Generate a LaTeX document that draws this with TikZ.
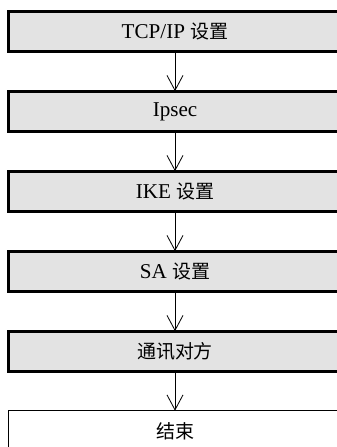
\documentclass[tikz,border=0pt]{standalone}
\usepackage{fontspec}
\setmainfont{Liberation Serif}
\newfontfamily\cjk[Scale=0.9]{Noto Sans CJK SC}
\usetikzlibrary{arrows.meta}
\definecolor{boxgray}{RGB}{227,227,227}
\begin{document}
\begin{tikzpicture}[x=0.03cm,y=-0.03cm,
	stepbox/.style={fill=boxgray, minimum width=9.96cm, minimum height=1.2cm, inner sep=0pt, font=\fontsize{18}{20}\selectfont},
	endbox/.style={fill=white, minimum width=9.96cm, minimum height=1.2cm, inner sep=0pt, font=\fontsize{18}{20}\selectfont},
	edge/.style={line width=2.5pt},
	flow/.style={line width=0.7pt, -{Straight Barb[length=0.45cm, width=0.48cm, line width=0.7pt]}}]
		\useasboundingbox (0,0) rectangle (337,447);
		\node[stepbox] (tcp) at (175,31.5) {TCP/IP {\cjk 设置}};
		\node[stepbox] (ipsec) at (175,111.5) {Ipsec};
		\node[stepbox] (ike) at (175,191.5) {IKE {\cjk 设置}};
		\node[stepbox] (sa) at (175,271.5) {SA {\cjk 设置}};
		\node[stepbox] (peer) at (175,351.5) {\cjk 通讯对方};
		\node[endbox] (done) at (175,431) {\cjk 结束};
		% open on the right side
		\foreach \b in {tcp,ipsec,ike,sa,peer}
			\draw[edge] ([xshift=1cm]\b.north east) -- (\b.north west) -- (\b.south west) -- ([xshift=1cm]\b.south east);
		\draw[line width=1.2pt] ([xshift=1cm]done.north east) -- (done.north west) -- ([yshift=-1cm]done.south west);
		\draw[flow] (tcp) -- (ipsec);
		\draw[flow] (ipsec) -- (ike);
		\draw[flow] (ike) -- (sa);
		\draw[flow] (sa) -- (peer);
		\draw[flow] (peer) -- (done);
	\end{tikzpicture}
\end{document}
